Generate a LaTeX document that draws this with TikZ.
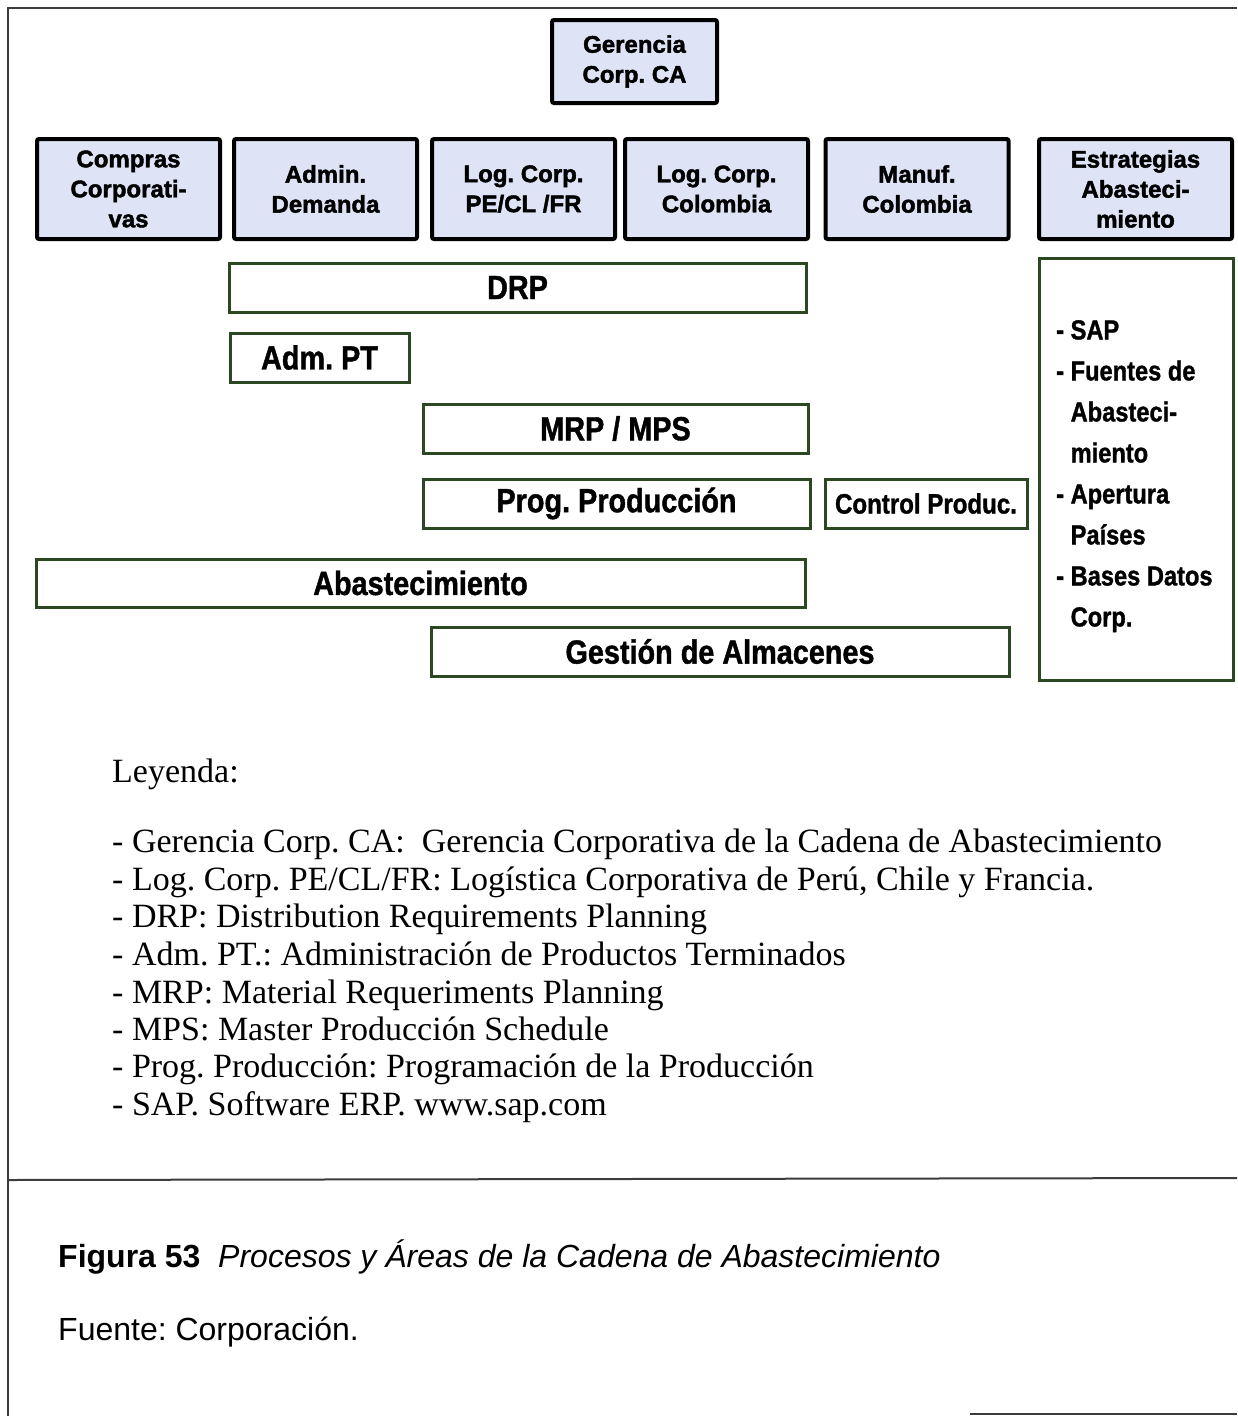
\documentclass[tikz,border=0pt]{standalone}
\usepackage{fontspec}
\setmainfont{Liberation Serif}
\setsansfont{Liberation Sans}
\newfontfamily\boxfont{Liberation Sans}[FakeStretch=0.86, BoldFeatures={FakeBold=1.2}]
\newfontfamily\topfont{Liberation Sans}[BoldFeatures={FakeBold=1.8}]
\definecolor{paleblue}{RGB}{222,227,246}
\definecolor{procgreen}{RGB}{44,72,34}
\definecolor{framecol}{RGB}{60,60,60}
\frenchspacing
\begin{document}
\begin{tikzpicture}[x=1pt,y=-1pt,
  topbox/.style={draw=black, line width=4pt, fill=paleblue, rounded corners=2pt,
    minimum width=183pt, minimum height=100pt, inner sep=0pt, align=center,
    font={\topfont\bfseries\fontsize{24}{30}\selectfont}},
  procbox/.style={draw=procgreen, line width=3pt, minimum height=49pt, inner sep=0pt,
    font={\boxfont\bfseries\fontsize{33.5}{36}\selectfont}},
  legendtext/.style={anchor=base west, inner sep=0pt,
    font={\fontsize{34}{37.6}\selectfont}},
  captext/.style={anchor=base west, inner sep=0pt,
    font={\sffamily\fontsize{32}{36}\selectfont}},
  frameline/.style={draw=framecol, line width=2pt}]
\useasboundingbox (0,0) rectangle (1237,1416);

% page frame and caption divider
\draw[frameline] (8,1416) -- (8,8) -- (1237,8);
\draw[frameline] (8,1180) -- (1237,1178);
\draw[frameline] (970,1414) -- (1237,1414);

% management and areas
\node[topbox, minimum width=165pt, minimum height=83pt] (ger) at (634.5,61.5) {Gerencia\\Corp. CA};
\node[topbox] (compras) at (128.5,189) {Compras\\Corporati-\\vas};
\node[topbox] (admin) at (325.5,189) {Admin.\\Demanda};
\node[topbox] (logpe) at (523.5,189) {Log. Corp.\\PE/CL /FR};
\node[topbox] (logco) at (716.5,189) {Log. Corp.\\Colombia};
\node[topbox] (manuf) at (917,189) {Manuf.\\Colombia};
\node[topbox, minimum width=193pt] (estr) at (1135.5,189) {Estrategias\\Abasteci-\\miento};

% processes
\node[procbox, minimum width=577pt] (drp) at (517.5,287.5) {DRP};
\node[procbox, minimum width=179pt] (admpt) at (319.5,357.5) {Adm. PT};
\node[procbox, minimum width=385pt] (mrp) at (615.5,428.5) {MRP / MPS};
\node[procbox, minimum width=387pt] (prog) at (616.5,503.5) {Prog. Producción};
\node[procbox, minimum width=202pt, font={\boxfont\bfseries\fontsize{28}{30}\selectfont}] (ctrl) at (926,503.5) {Control Produc.};
\node[procbox, minimum width=769pt, minimum height=48pt] (abast) at (420.5,583) {Abastecimiento};
\node[procbox, minimum width=578pt] (alm) at (720,651.5) {Gestión de Almacenes};

% strategy tools
\node[procbox, minimum width=194pt, minimum height=422pt] (tools) at (1136,469) {};
\node[anchor=north west, inner sep=0pt, align=left,
  font={\boxfont\bfseries\fontsize{27.5}{41}\selectfont}] (toolslist) at (1056,320)
  {- SAP\\- Fuentes de\\\hphantom{- }Abasteci-\\\hphantom{- }miento\\- Apertura\\\hphantom{- }Países\\- Bases Datos\\\hphantom{- }Corp.};

% legend
\node[legendtext] (leyenda) at (112,782) {Leyenda:};
\node[legendtext] (lg1) at (112,852) {- Gerencia Corp. CA:\ \ Gerencia Corporativa de la Cadena de Abastecimiento};
\node[legendtext] (lg2) at (112,890) {- Log. Corp. PE/CL/FR: Logística Corporativa de Perú, Chile y Francia.};
\node[legendtext] (lg3) at (112,927) {- DRP: Distribution Requirements Planning};
\node[legendtext] (lg4) at (112,965) {- Adm. PT.: Administración de Productos Terminados};
\node[legendtext] (lg5) at (112,1003) {- MRP: Material Requeriments Planning};
\node[legendtext] (lg6) at (112,1040) {- MPS: Master Producción Schedule};
\node[legendtext] (lg7) at (112,1077) {- Prog. Producción: Programación de la Producción};
\node[legendtext] (lg8) at (112,1115) {- SAP. Software ERP. www.sap.com};

% caption
\node[captext] (fig) at (58,1267) {\textbf{Figura 53}\ \ \textit{Procesos y Áreas de la Cadena de Abastecimiento}};
\node[captext] (src) at (58,1340) {Fuente: Corporación.};
\end{tikzpicture}
\end{document}
